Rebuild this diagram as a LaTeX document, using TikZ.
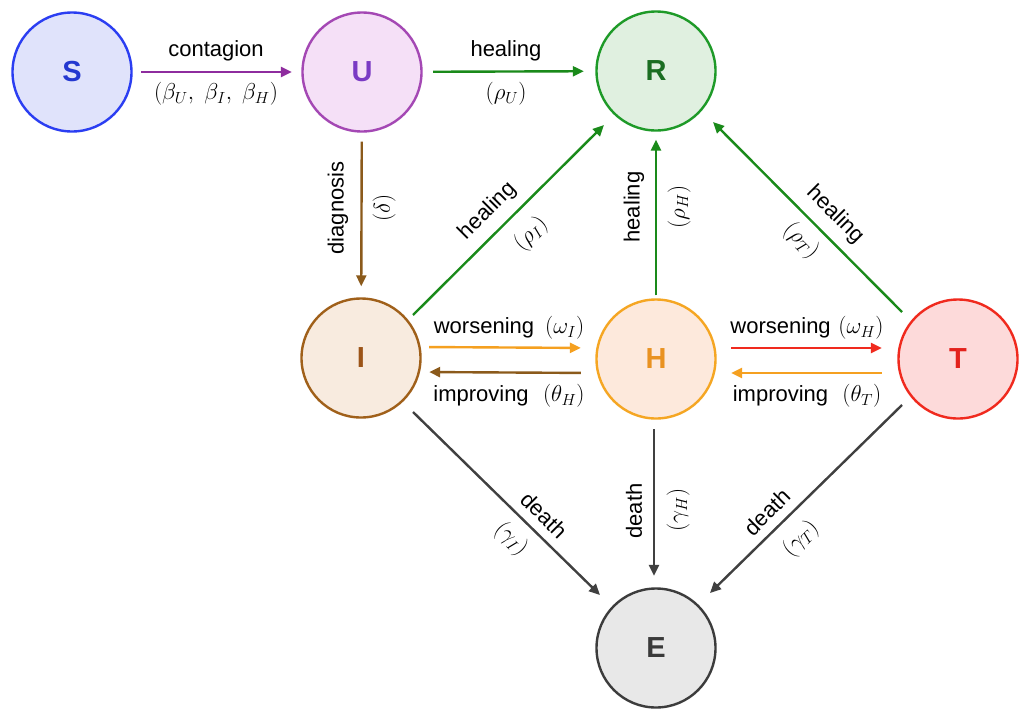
\RequirePackage{fix-cm}
\documentclass[tikz,border=0pt]{standalone}
\usepackage{fontspec}
\setmainfont{Liberation Sans}
\usetikzlibrary{arrows.meta,calc}
\definecolor{sB}{HTML}{2B3EF2}\definecolor{sF}{HTML}{E0E3FB}\definecolor{sL}{HTML}{2438D0}
\definecolor{uB}{HTML}{A448B4}\definecolor{uF}{HTML}{F5E0F7}\definecolor{uL}{HTML}{7A3AC4}
\definecolor{rB}{HTML}{1E9A28}\definecolor{rF}{HTML}{E0F0E0}\definecolor{rL}{HTML}{1B6E22}
\definecolor{iB}{HTML}{A0601A}\definecolor{iF}{HTML}{F8EBDF}\definecolor{iL}{HTML}{9C5418}
\definecolor{hB}{HTML}{F5A623}\definecolor{hF}{HTML}{FDE9DC}\definecolor{hL}{HTML}{E99221}
\definecolor{tB}{HTML}{F02A1E}\definecolor{tF}{HTML}{FDDADA}\definecolor{tL}{HTML}{E3221C}
\definecolor{eB}{HTML}{3C3C3C}\definecolor{eF}{HTML}{E8E8E8}\definecolor{eL}{HTML}{3A3A3A}
\definecolor{aPur}{HTML}{8E2C9E}
\definecolor{aGrn}{HTML}{1A8A1A}
\definecolor{aBrn}{HTML}{8B5A1B}
\definecolor{aOrg}{HTML}{F5A020}
\definecolor{aRed}{HTML}{F02A1E}
\definecolor{aGry}{HTML}{404040}
\newcommand\mth[1]{{\fontsize{23}{27}\selectfont$#1$}}
\begin{document}
\begin{tikzpicture}[x=1pt,y=-1pt,
  state/.style={circle, minimum size=119pt, inner sep=0pt, line width=2.4pt,
    font=\fontsize{29}{30}\selectfont\bfseries},
  arr/.style={line width=2.4pt, -{Triangle[length=11pt,width=10pt]}},
  lbl/.style={font=\fontsize{22}{26}\selectfont, inner sep=0pt, text=black}]
\useasboundingbox[fill=white] (0,0) rectangle (1024,715);

% states
\node[state, draw=sB, fill=sF, text=sL] (S) at (72,72) {S};
\node[state, draw=uB, fill=uF, text=uL] (U) at (362,72) {U};
\node[state, draw=rB, fill=rF, text=rL] (R) at (656,71) {R};
\node[state, draw=iB, fill=iF, text=iL] (I) at (361,358) {I};
\node[state, draw=hB, fill=hF, text=hL] (H) at (656,359) {H};
\node[state, draw=tB, fill=tF, text=tL] (T) at (958,359) {T};
\node[state, draw=eB, fill=eF, text=eL] (E) at (656,648) {E};

% top row
\draw[arr, aPur, shorten <=8.5pt, shorten >=9.5pt] (S) -- (U);
\draw[arr, aGrn, shorten <=10.5pt, shorten >=11.5pt] (U) -- (R);
\node[lbl] (lSU1) at (216,51) {contagion};
\node[lbl] (lSU2) at (216,94) {\mth{(\beta_U,\;\beta_I,\;\beta_H)}};
\node[lbl] (lUR1) at (506,51) {healing};
\node[lbl] (lUR2) at (506,94) {\mth{(\rho_U)}};

% diagnosis
\draw[arr, aBrn, shorten <=9pt, shorten >=11pt] (U) -- (I);
\node[lbl, rotate=90] (lUI1) at (338,208) {diagnosis};
\node[lbl, rotate=90] (lUI2) at (384,208) {\mth{(\delta)}};

% healing diagonals and vertical
\draw[arr, aGrn] ([shift={(52pt,43pt)}]I.center) -- ([shift={(-52pt,-54pt)}]R.center);
\node[lbl, rotate=45] (lIR1) at (488,211) {healing};
\node[lbl, rotate=45] (lIR2) at (531,234) {\mth{(\rho_I)}};

\draw[arr, aGrn, shorten <=3pt, shorten >=8pt] (H) -- (R);
\node[lbl, rotate=90] (lHR1) at (634,207) {healing};
\node[lbl, rotate=90] (lHR2) at (679,207) {\mth{(\rho_H)}};

\draw[arr, aGrn] ([shift={(-56pt,47pt)}]T.center) -- ([shift={(57pt,-51pt)}]R.center);
\node[lbl, rotate=-45] (lTR1) at (835,215) {healing};
\node[lbl, rotate=-45] (lTR2) at (801,241) {\mth{(\rho_T)}};

% I <-> H
\draw[arr, aOrg, shorten <=7.5pt, shorten >=14.5pt] ([yshift=11pt]I.east) -- ([yshift=11pt]H.west);
\draw[arr, aBrn, shorten <=14.5pt, shorten >=7.5pt] ([yshift=-14pt]H.west) -- ([yshift=-14pt]I.east);
\node[lbl] (lIH1) at (509,328) {worsening\hspace{0.5em}\mth{(\omega_I)}};
\node[lbl] (lIH2) at (509,396) {improving\hspace{0.65em}\mth{(\theta_H)}};

% H <-> T
\draw[arr, aRed, shorten <=14.5pt, shorten >=15.5pt] ([yshift=11pt]H.east) -- ([yshift=11pt]T.west);
\draw[arr, aOrg, shorten <=15.5pt, shorten >=14.5pt] ([yshift=-14pt]T.west) -- ([yshift=-14pt]H.east);
\node[lbl] (lHT1) at (807,328) {worsening\hspace{0.35em}\mth{(\omega_H)}};
\node[lbl] (lHT2) at (807,396) {improving\hspace{0.65em}\mth{(\theta_T)}};

% deaths
\draw[arr, aGry] ([shift={(52pt,-54pt)}]I.center) -- ([shift={(-56pt,53pt)}]E.center);
\node[lbl, rotate=-45] (lIE1) at (544,515) {death};
\node[lbl, rotate=-45] (lIE2) at (511,539) {\mth{(\gamma_I)}};

\draw[arr, aGry, shorten <=9.5pt, shorten >=11.5pt] ([xshift=-2pt]H.south) -- ([xshift=-2pt]E.north);
\node[lbl, rotate=90] (lHE1) at (634,511) {death};
\node[lbl, rotate=90] (lHE2) at (678,510) {\mth{(\gamma_H)}};

\draw[arr, aGry] ([shift={(-56pt,-46pt)}]T.center) -- ([shift={(54pt,55pt)}]E.center);
\node[lbl, rotate=45] (lTE1) at (767,512) {death};
\node[lbl, rotate=45] (lTE2) at (801,539) {\mth{(\gamma_T)}};
\end{tikzpicture}
\end{document}
